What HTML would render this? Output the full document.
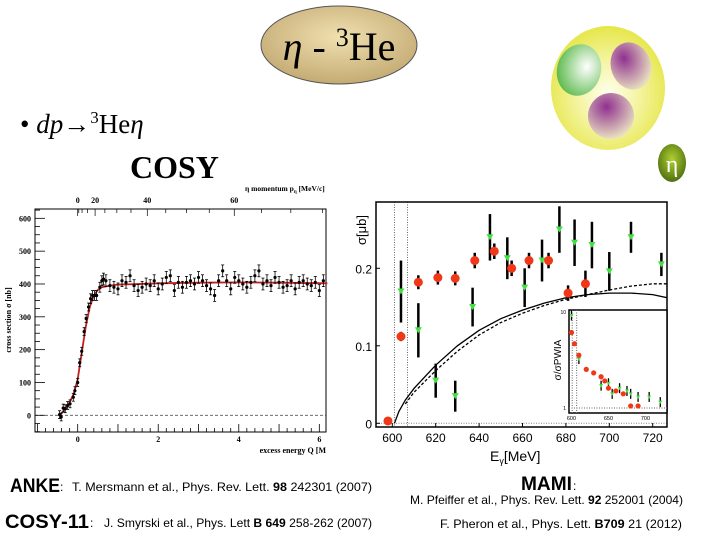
<!DOCTYPE html>
<html><head><meta charset="utf-8"><style>
body{margin:0;background:#fff;width:720px;height:540px;overflow:hidden}
svg{display:block}
.s{font-family:"Liberation Serif",serif}
.a{font-family:"Liberation Sans Narrow","Liberation Sans",sans-serif}
</style></head><body>
<svg id="svg" width="720" height="540" xmlns="http://www.w3.org/2000/svg">
<defs>
<radialGradient id="tan" cx="50%" cy="40%" r="60%"><stop offset="0" stop-color="#f0e0b0"/><stop offset="1" stop-color="#c4ab74"/></radialGradient>
<radialGradient id="yel" cx="50%" cy="55%" r="55%"><stop offset="0" stop-color="#fffff0"/><stop offset="0.5" stop-color="#f4f4a0"/><stop offset="1" stop-color="#e6e64a"/></radialGradient>
<radialGradient id="grn" cx="65%" cy="40%" r="70%"><stop offset="0" stop-color="#ffffff"/><stop offset="1" stop-color="#58b848"/></radialGradient>
<radialGradient id="pur" cx="40%" cy="30%" r="70%"><stop offset="0" stop-color="#903090"/><stop offset="1" stop-color="#e8e0c0"/></radialGradient>
<radialGradient id="eta" cx="50%" cy="40%" r="60%"><stop offset="0" stop-color="#b0d030"/><stop offset="1" stop-color="#507010"/></radialGradient>
<clipPath id="rclip"><rect x="376" y="202" width="291" height="225"/></clipPath>
</defs>
<g>
<ellipse cx="339" cy="45" rx="78" ry="39" fill="url(#tan)" stroke="#555" stroke-width="1"/>
<text x="339" y="60" text-anchor="middle" class="s" font-size="40"><tspan font-style="italic">η</tspan> - <tspan font-size="26" dy="-14">3</tspan><tspan dy="14">He</tspan></text>
</g>
<text x="20" y="133" class="s" font-size="27">• <tspan font-style="italic">dp</tspan>→<tspan font-size="17" dy="-10">3</tspan><tspan dy="10">He</tspan><tspan font-style="italic">η</tspan></text>
<text x="130" y="178" class="s" font-size="32" font-weight="bold">COSY</text>
<g>
<ellipse cx="608" cy="88" rx="57" ry="62" fill="url(#yel)"/>
<ellipse cx="579" cy="70" rx="22" ry="26" fill="url(#grn)" transform="rotate(15 579 70)"/>
<ellipse cx="631" cy="66" rx="20" ry="24" fill="url(#pur)" transform="rotate(-20 631 66)"/>
<ellipse cx="611" cy="116" rx="23" ry="23" fill="url(#pur)"/>
<ellipse cx="672" cy="163" rx="14" ry="19" fill="url(#eta)"/>
<text x="672" y="172" text-anchor="middle" class="s" font-size="24" fill="#fff">η</text>
</g>
<g id="left"></g>
<g id="right"></g>
<g class="a">
<text x="10" y="492" font-size="19" font-weight="bold" textLength="50" lengthAdjust="spacingAndGlyphs">ANKE</text>
<text x="60" y="491" font-size="12">:</text>
<text x="72" y="491" font-size="12" textLength="300" lengthAdjust="spacingAndGlyphs">T. Mersmann et al., Phys. Rev. Lett. <tspan font-weight="bold">98</tspan> 242301 (2007)</text>
<text x="5" y="528" font-size="19" font-weight="bold" textLength="84" lengthAdjust="spacingAndGlyphs">COSY-11</text>
<text x="90" y="527" font-size="12">:</text>
<text x="104" y="527" font-size="12" textLength="268" lengthAdjust="spacingAndGlyphs">J. Smyrski et al., Phys. Lett <tspan font-weight="bold">B 649</tspan> 258-262 (2007)</text>
<text x="521" y="490" font-size="19" font-weight="bold" textLength="51" lengthAdjust="spacingAndGlyphs">MAMI</text>
<text x="573" y="490" font-size="12">:</text>
<text x="410" y="504" font-size="12" textLength="273" lengthAdjust="spacingAndGlyphs">M. Pfeiffer et al., Phys. Rev. Lett. <tspan font-weight="bold">92</tspan> 252001 (2004)</text>
<text x="440" y="528" font-size="12" textLength="242" lengthAdjust="spacingAndGlyphs">F. Pheron et al., Phys. Lett. <tspan font-weight="bold">B709</tspan>  21 (2012)</text>
</g>
</svg>
<script>
// ---- left chart data (COSY / ANKE) ----
const leftQ=[-0.45,-0.41,-0.36,-0.31,-0.25,-0.19,-0.11,-0.07,0,0.05,0.1,0.16,0.21,0.27,0.32,0.37,0.42,0.47,0.55,0.6,0.64,0.7,0.8,0.9,1.0,1.1,1.2,1.3,1.4,1.5,1.6,1.7,1.8,1.9,2.0,2.1,2.2,2.3,2.4,2.5,2.6,2.7,2.8,2.9,3.0,3.1,3.2,3.3,3.4,3.5,3.6,3.7,3.8,3.9,4.0,4.1,4.2,4.3,4.4,4.5,4.6,4.7,4.8,4.9,5.0,5.1,5.2,5.3,5.4,5.5,5.6,5.7,5.8,5.9,6.0,6.1];
const leftSigma=[2,-5,22,20,30,35,55,75,100,160,195,255,295,330,355,365,365,365,390,410,415,410,395,390,385,410,405,425,395,380,390,400,395,410,385,400,420,425,380,405,390,405,410,400,420,410,395,385,365,410,440,410,385,420,410,400,390,405,425,440,400,410,395,420,405,390,395,410,385,405,410,400,395,405,380,410];
const leftErr=[12,12,12,12,12,12,12,12,12,12,12,12,12,12,15,15,15,15,15,15,18,18,18,18,18,18,18,18,18,18,18,18,18,18,18,18,18,18,18,18,18,18,18,18,18,18,18,18,18,18,18,18,18,18,18,18,18,18,18,18,18,18,18,18,18,18,18,18,18,18,18,18,18,18,18,18];
const leftFitQ=[-0.45,-0.3,-0.2,-0.1,0,0.1,0.2,0.3,0.4,0.5,0.6,0.8,1,2,3,4,5,6.2];
const leftFitS=[0,20,40,65,110,190,270,330,365,382,390,395,398,402,404,405,404,402];
const leftYTicks=[0,100,200,300,400,500,600];
const leftXTicks=[0,2,4,6];
const topTicks=[0,20,40,60];
// ---- right chart data (MAMI) ----
const redE=[598,604,612,621,629,638,647,655,663,672,681,689];
const redS=[0.003,0.112,0.182,0.188,0.187,0.21,0.222,0.2,0.21,0.21,0.168,0.18];
const redErr=[0.004,0.006,0.009,0.009,0.009,0.01,0.01,0.01,0.01,0.01,0.01,0.017];
const grnE=[604,612,620,629,637,645,653,661,669,677,684,692,700,710,724];
const grnS=[0.17,0.12,0.055,0.035,0.15,0.24,0.213,0.175,0.21,0.25,0.233,0.23,0.196,0.24,0.205];
const grnErr=[0.04,0.035,0.022,0.02,0.025,0.03,0.027,0.025,0.027,0.03,0.03,0.03,0.025,0.02,0.015];
const solidE=[601,603,606,610,620,630,640,650,660,670,680,690,700,710,720,730];
const solidS=[0,0.015,0.03,0.045,0.075,0.1,0.12,0.135,0.146,0.155,0.162,0.166,0.168,0.168,0.166,0.16];
const dashE=[606,610,620,630,640,650,660,670,680,690,700,710,720,730];
const dashS=[0.025,0.04,0.068,0.093,0.114,0.13,0.142,0.152,0.16,0.166,0.172,0.177,0.18,0.18];
const rightXTicks=[600,620,640,660,680,700,720];
const rightYTicks=[0,0.1,0.2];
const insetRedE=[600,604,610,620,630,640,645,650,660,670,680,690];
const insetRedR=[6,4.6,3.5,2.5,2.3,2.1,1.9,1.6,1.5,1.4,1.05,1.05];
const insetGrnE=[600,610,640,650,655,665,675,680,690,705,720];
const insetGrnR=[9,3.2,1.7,1.8,1.4,1.6,1.5,1.4,1.3,1.3,1.15];

const NS='http://www.w3.org/2000/svg';
function mk(p,tag,at){const e=document.createElementNS(NS,tag);for(const k in at)e.setAttribute(k,at[k]);p.appendChild(e);return e;}
function tx(p,x,y,s,at){const e=mk(p,'text',Object.assign({x:x,y:y},at));e.textContent=s;return e;}

// ---- left chart ----
const L=document.getElementById('left');
const lx=q=>77.7+q*40.27, ly=v=>415.3-v*0.3283;
const px=p=>lx(0.00108*p*p);
const f1={'font-family':'Liberation Serif,serif','font-weight':'bold','font-size':'8'};
let r=mk(L,'rect',{x:35,y:209,width:291,height:223,fill:'none',stroke:'#000','stroke-width':1});


let z=mk(L,'line',{x1:35,x2:326,y1:ly(0),y2:ly(0),stroke:'#555','stroke-dasharray':'3,2','stroke-width':0.8});


for(let v=-50;v<=650;v+=25){const y=ly(v);if(y<209||y>432)continue;const big=v%100===0;mk(L,'line',{x1:35,x2:35+(big?10:5),y1:y,y2:y,stroke:'#000','stroke-width':0.8});}
leftYTicks.forEach(v=>{const t=tx(L,31,ly(v)+3,String(v),Object.assign({'text-anchor':'end'},f1));});
for(let q=-1;q<=6.2;q+=0.2){const x=lx(q);if(x<35||x>326)continue;const big=Math.abs(q-Math.round(q))<0.01;mk(L,'line',{x1:x,x2:x,y1:432,y2:432-(big?8:4),stroke:'#000','stroke-width':0.8});}
leftXTicks.forEach(q=>{const t=tx(L,lx(q),442,String(q),Object.assign({'text-anchor':'middle'},f1));});
for(let p=0;p<=75;p+=5){const x=px(p);if(x>326)break;const big=p%20===0;mk(L,'line',{x1:x,x2:x,y1:209,y2:209+(big?7:4),stroke:'#000','stroke-width':0.7});}
topTicks.forEach(p=>{const t=tx(L,px(p),203,String(p),Object.assign({'text-anchor':'middle'},f1));});
let t1=tx(L,245,191,'η momentum p',{'font-family':'Liberation Serif,serif','font-weight':'bold','font-size':'7.5'});


const ts=mk(t1,'tspan',{'font-size':'5',dy:'2'});ts.textContent='η';const ts2=mk(t1,'tspan',{dy:'-2'});ts2.textContent=' [MeV/c]';
let t2=tx(L,326,453,'excess energy Q [M',{'text-anchor':'end','font-family':'Liberation Serif,serif','font-weight':'bold','font-size':'8'});


let t3=tx(L,0,0,'cross section σ [nb]',{transform:'translate(11,320) rotate(-90)','text-anchor':'middle','font-family':'Liberation Serif,serif','font-weight':'bold','font-size':'8'});


let fit=mk(L,'polyline',{points:leftFitQ.map((q,i)=>lx(q)+','+ly(leftFitS[i])).join(' '),fill:'none',stroke:'#c02020','stroke-width':1.8});


leftQ.forEach((q,i)=>{const x=lx(q),y=ly(leftSigma[i]),e=leftErr[i]*0.3283;
 const g=mk(L,'g',{});
 
 
 mk(g,'line',{x1:x,x2:x,y1:y-e,y2:y+e,stroke:'#000','stroke-width':0.8});
 mk(g,'line',{x1:x-1.5,x2:x+1.5,y1:y-e,y2:y-e,stroke:'#000','stroke-width':0.8});
 mk(g,'line',{x1:x-1.5,x2:x+1.5,y1:y+e,y2:y+e,stroke:'#000','stroke-width':0.8});
 mk(g,'circle',{cx:x,cy:y,r:1.6,fill:'#000'});});

// ---- right chart ----
const R=document.getElementById('right');
const rx=e=>392.3+(e-600)*2.17, ry=v=>423.3-v*775;
const RC=mk(R,'g',{'clip-path':'url(#rclip)'});


[601,607].forEach(e=>{const l=mk(RC,'line',{x1:rx(e),x2:rx(e),y1:202,y2:427,stroke:'#666','stroke-dasharray':'1,1.5','stroke-width':1});});
mk(RC,'line',{x1:376,x2:667,y1:ry(0),y2:ry(0),stroke:'#888','stroke-dasharray':'1,1.5'});
const f2={'font-family':'Liberation Sans,sans-serif','font-size':'12'};
rightXTicks.forEach(e=>{mk(R,'line',{x1:rx(e),x2:rx(e),y1:427,y2:423,stroke:'#000'});const t=tx(R,rx(e),442,String(e),Object.assign({'text-anchor':'middle'},f2));});
rightYTicks.forEach(v=>{mk(R,'line',{x1:376,x2:380,y1:ry(v),y2:ry(v),stroke:'#000'});const t=tx(R,372,ry(v)+5,String(v),Object.assign({'text-anchor':'end'},f2));});
let rt=tx(R,490,461,'E',{'font-family':'Liberation Sans,sans-serif','font-size':'14'});


const rs=mk(rt,'tspan',{'font-size':'9',dy:'3'});rs.textContent='γ';const rs2=mk(rt,'tspan',{dy:'-3'});rs2.textContent='[MeV]';
let ryt=tx(R,0,0,'σ[μb]',{transform:'translate(366,230) rotate(-90)','text-anchor':'middle','font-family':'Liberation Sans,sans-serif','font-size':'13'});


let sc=mk(RC,'polyline',{points:solidE.map((e,i)=>rx(e)+','+ry(solidS[i])).join(' '),fill:'none',stroke:'#000','stroke-width':1.3});


let dc=mk(RC,'polyline',{points:dashE.map((e,i)=>rx(e)+','+ry(dashS[i])).join(' '),fill:'none',stroke:'#000','stroke-width':1.3,'stroke-dasharray':'3,2'});


grnE.forEach((e,i)=>{const x=rx(e),y=ry(grnS[i]),d=grnErr[i]*775;const g=mk(RC,'g',{});
 
 
 mk(g,'line',{x1:x,x2:x,y1:y-d,y2:y+d,stroke:'#000','stroke-width':2.5});
 mk(g,'polygon',{points:`${x-3.5},${y-3} ${x+3.5},${y-3} ${x},${y+3}`,fill:'#40e040'});});
redE.forEach((e,i)=>{const x=rx(e),y=ry(redS[i]),d=redErr[i]*775;const g=mk(RC,'g',{});
 
 
 mk(g,'line',{x1:x,x2:x,y1:y-d,y2:y+d,stroke:'#000','stroke-width':2.5});
 mk(g,'circle',{cx:x,cy:y,r:4.5,fill:'#f03818'});});
let fr=mk(R,'rect',{x:376,y:202,width:291,height:225,fill:'none',stroke:'#000','stroke-width':1.5});


// inset
const I=mk(R,'g',{});


mk(I,'rect',{x:569,y:310,width:98,height:103,fill:'#fff',stroke:'#000','stroke-width':1.5});
const ix=e=>570+(e-598)*0.74, iy=v=>408-Math.log10(v)*97;
mk(I,'line',{x1:569,x2:667,y1:iy(1),y2:iy(1),stroke:'#666','stroke-dasharray':'1,1.5'});
[601,607].forEach(e=>mk(I,'line',{x1:ix(e),x2:ix(e),y1:310,y2:413,stroke:'#666','stroke-dasharray':'1,1.5'}));
tx(I,566,314,'10',{'text-anchor':'end','font-family':'Liberation Sans,sans-serif','font-size':'5'});
tx(I,566,410,'1',{'text-anchor':'end','font-family':'Liberation Sans,sans-serif','font-size':'5'});
[[600,'600'],[650,'650'],[700,'700']].forEach(a=>tx(I,ix(a[0]),420,a[1],{'text-anchor':'middle','font-family':'Liberation Sans,sans-serif','font-size':'5.5'}));
tx(I,0,0,'σ/σPWIA',{transform:'translate(561,360) rotate(-90)','text-anchor':'middle','font-family':'Liberation Sans,sans-serif','font-size':'10'});
insetGrnE.forEach((e,i)=>{const x=ix(e),y=iy(insetGrnR[i]);mk(I,'line',{x1:x,x2:x,y1:y-5,y2:y+5,stroke:'#000','stroke-width':1.3});mk(I,'polygon',{points:`${x-2},${y-1.5} ${x+2},${y-1.5} ${x},${y+2}`,fill:'#40e040'});});
insetRedE.forEach((e,i)=>mk(I,'circle',{cx:ix(e),cy:iy(insetRedR[i]),r:2.6,fill:'#f03818'}));
</script>
</body></html>
